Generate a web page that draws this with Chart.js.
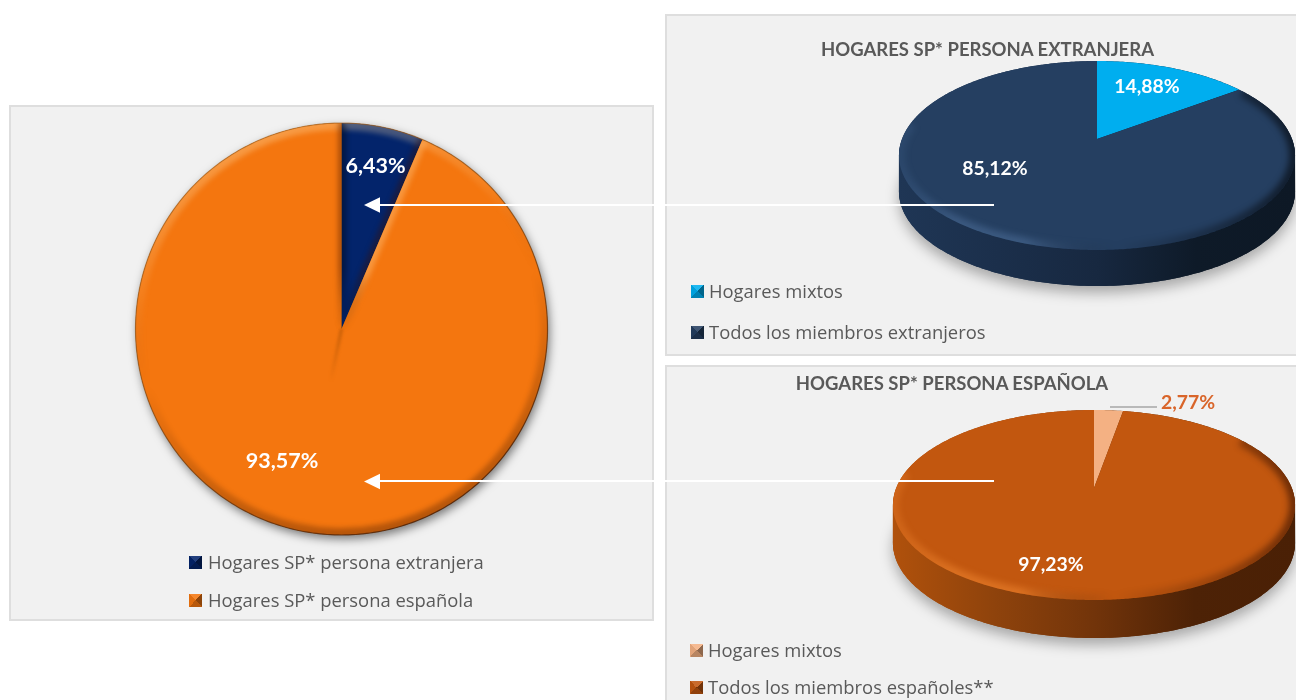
<!DOCTYPE html>
<html lang="es">
<head>
<meta charset="utf-8">
<title>Hogares SP</title>
<script src="https://cdn.jsdelivr.net/npm/chart.js@4"></script>
<style>
html,body{margin:0;padding:0;background:#fff;width:1296px;height:700px;overflow:hidden}
.panel{position:absolute;box-sizing:border-box;background:#f1f1f1;border:2px solid #dedede}
canvas{position:absolute;left:-2px;top:-2px}
.txt{position:absolute;white-space:nowrap;color:#595959;font-family:"Open Sans",sans-serif;font-size:18.4px;line-height:24px;height:24px}
.ttl{position:absolute;white-space:nowrap;color:#595959;font-family:Lato,sans-serif;font-weight:700;font-size:18.5px;line-height:24px;transform:translateX(-50%)}
.sw{position:absolute;width:13px;height:13px}
svg{position:absolute;left:0;top:0;pointer-events:none}
</style>
</head>
<body>
<div class="panel" id="pMain" style="left:9px;top:105px;width:645px;height:516px"><canvas id="cMain" width="645" height="516"></canvas></div>
<div class="panel" id="pTop" style="left:665px;top:14px;width:633px;height:342px"><canvas id="cTop" width="633" height="342"></canvas></div>
<div class="panel" id="pBot" style="left:665px;top:365px;width:633px;height:340px"><canvas id="cBot" width="633" height="340"></canvas></div>
<div id="texts"></div>
<svg width="1296" height="700">
<line x1="994" y1="205" x2="378" y2="205" stroke="#fff" stroke-width="2"/><polygon points="364,205 380,197.3 380,212.7" fill="#fff"/>
<line x1="994" y1="481" x2="378" y2="481" stroke="#fff" stroke-width="2"/><polygon points="364,481.5 380,473.8 380,489.2" fill="#fff"/>
</svg>
<script>
// ---- data ----
const mainCategories = ["Hogares SP* persona extranjera", "Hogares SP* persona española"];
const mainValues = [6.43, 93.57];
const foreignTitle = "HOGARES SP* PERSONA EXTRANJERA";
const foreignCategories = ["Hogares mixtos", "Todos los miembros extranjeros"];
const foreignValues = [14.88, 85.12];
const spanishTitle = "HOGARES SP* PERSONA ESPAÑOLA";
const spanishCategories = ["Hogares mixtos", "Todos los miembros españoles**"];
const spanishValues = [2.77, 97.23];
const mainColors = ["#03246b", "#f4760f"];
const foreignColors = ["#00aeef", "#253f61"];
const spanishColors = ["#f4b183", "#c2570f"];

const fmt = v => v.toFixed(2).replace(".", ",") + "%";

function projector(el, o) {
  const k = o.k, A = el.outerRadius * o.a, B = el.outerRadius * o.b, X = el.x, Y = el.y;
  return a => {
    const u = Math.cos(a), v = Math.sin(a), w = 1 - k * v;
    return [X + A * u / w, Y + B * v / w];
  };
}
function tracePoly(ctx, pts, open) {
  ctx.beginPath();
  pts.forEach((p, i) => i ? ctx.lineTo(p[0], p[1]) : ctx.moveTo(p[0], p[1]));
  if (!open) ctx.closePath();
}
function ring(P) {
  const pts = [];
  for (let i = 0; i < 360; i++) pts.push(P(i * Math.PI / 180));
  return pts;
}

const piePainter = {
  id: "piePainter",
  beforeDatasetDraw(chart, args, o) {
    const ctx = chart.ctx, els = chart.getDatasetMeta(0).data;
    const P = projector(els[0], o), rim = ring(P);
    const xs = rim.map(p => p[0]), ys = rim.map(p => p[1]);
    const x0 = Math.min(...xs), x1 = Math.max(...xs);
    ctx.save();
    if (o.depth) {
      const wall = ctx.createLinearGradient(x0, 0, x1, 0);
      o.wall.forEach((c, i) => wall.addColorStop(i / (o.wall.length - 1), c));
      ctx.save();
      ctx.shadowColor = "rgba(0,0,0,.3)"; ctx.shadowBlur = 13; ctx.shadowOffsetY = 7;
      tracePoly(ctx, rim.map(p => [p[0], p[1] + o.depth]));
      ctx.fillStyle = wall; ctx.fill();
      ctx.restore();
      ctx.fillStyle = wall;
      for (let d = 0; d <= o.depth; d += 1) { tracePoly(ctx, rim.map(p => [p[0], p[1] + d])); ctx.fill(); }
    } else {
      ctx.save();
      ctx.shadowColor = "rgba(0,0,0,.5)"; ctx.shadowBlur = 10; ctx.shadowOffsetX = 2; ctx.shadowOffsetY = 4;
      tracePoly(ctx, rim); ctx.fillStyle = "#7a4a12"; ctx.fill();
      ctx.restore();
    }
    els.forEach((el, i) => {
      const pts = [[el.x, el.y]];
      for (let a = el.startAngle; a < el.endAngle; a += Math.PI / 360) pts.push(P(a));
      pts.push(P(el.endAngle));
      tracePoly(ctx, pts);
      ctx.fillStyle = chart.data.datasets[0].backgroundColor[i];
      ctx.fill();
      if (!o.depth) {
        ctx.save();
        tracePoly(ctx, pts); ctx.clip();
        ctx.filter = "blur(2.5px)";
        const cy0 = el.y - el.outerRadius, cy1 = el.y + el.outerRadius;
        const g = ctx.createLinearGradient(el.x - el.outerRadius * .3, cy0, el.x + el.outerRadius * .3, cy1);
        g.addColorStop(0, "rgba(255,225,170,.36)"); g.addColorStop(.3, "rgba(255,225,170,.08)");
        g.addColorStop(.5, "rgba(0,0,0,.0)"); g.addColorStop(1, "rgba(60,20,0,.35)");
        ctx.beginPath(); ctx.arc(el.x, el.y, el.outerRadius, el.startAngle, el.endAngle);
        ctx.strokeStyle = g; ctx.lineWidth = 14; ctx.stroke();
        const edge = (ang, col, w) => {
          const p = P(ang);
          const c = ctx.createLinearGradient(el.x, el.y, p[0], p[1]);
          c.addColorStop(0, "rgba(0,0,0,0)"); c.addColorStop(.3, col); c.addColorStop(1, col);
          ctx.beginPath(); ctx.moveTo(el.x, el.y); ctx.lineTo(p[0], p[1]);
          ctx.strokeStyle = c; ctx.lineWidth = w; ctx.stroke();
        };
        edge(el.startAngle, i === 0 ? "rgba(0,0,0,.35)" : "rgba(255,200,130,.4)", 10);
        edge(el.endAngle, "rgba(60,15,0,.38)", i === 0 ? 10 : 7);
        ctx.restore();
      }
    });
    if (!o.depth) {
      // seam that runs on past the centre, opposite the small slice
      const el = els[0], mid = (el.startAngle + el.endAngle) / 2 + Math.PI;
      const q = [el.x + Math.cos(mid) * el.outerRadius * .26, el.y + Math.sin(mid) * el.outerRadius * .26];
      ctx.save();
      ctx.filter = "blur(1.5px)";
      const s = ctx.createLinearGradient(el.x, el.y, q[0], q[1]);
      s.addColorStop(0, "rgba(150,70,0,.5)"); s.addColorStop(1, "rgba(150,70,0,0)");
      ctx.beginPath(); ctx.moveTo(el.x, el.y); ctx.lineTo(q[0], q[1]);
      ctx.strokeStyle = s; ctx.lineWidth = 3; ctx.stroke();
      ctx.restore();
      const rg = ctx.createLinearGradient(el.x - el.outerRadius * .6, el.y - el.outerRadius, el.x + el.outerRadius * .6, el.y + el.outerRadius);
      rg.addColorStop(0, "rgba(170,95,20,.55)"); rg.addColorStop(.45, "rgba(130,70,15,.65)"); rg.addColorStop(1, "rgba(75,30,5,.9)");
      tracePoly(ctx, rim);
      ctx.strokeStyle = rg; ctx.lineWidth = 1.2; ctx.stroke();
    } else {
      // rounded near edge of the top face only, the far side stays flat
      ctx.save();
      tracePoly(ctx, rim); ctx.clip();
      ctx.filter = "blur(3px)";
      const g = ctx.createLinearGradient(x0, 0, x1, 0);
      o.bevel.forEach(s => g.addColorStop(s[0], s[1]));
      const near = [];
      for (let d = -35; d <= 190; d++) near.push(P(d * Math.PI / 180));
      tracePoly(ctx, near, true); ctx.strokeStyle = g; ctx.lineWidth = 12; ctx.stroke();
      ctx.restore();
    }
    ctx.restore();
    return false;
  },
  afterDraw(chart, args, o) {
    const ctx = chart.ctx, data = chart.data.datasets[0].data;
    ctx.save();
    if (o.leader) {
      ctx.beginPath(); ctx.moveTo(o.leader[0], o.leader[1]); ctx.lineTo(o.leader[2], o.leader[1]);
      ctx.strokeStyle = "#a6a6a6"; ctx.lineWidth = 1.5; ctx.stroke();
    }
    ctx.textAlign = "center"; ctx.textBaseline = "middle";
    o.labels.forEach((l, i) => {
      ctx.font = "700 " + o.font + "px Lato, sans-serif";
      ctx.fillStyle = l[2];
      ctx.fillText(fmt(data[i]), l[0], l[1]);
    });
    ctx.restore();
  }
};

function makePie(id, cats, vals, cols, pad, opts) {
  return new Chart(document.getElementById(id), {
    type: "pie",
    data: { labels: cats, datasets: [{ data: vals, backgroundColor: cols, borderWidth: 0 }] },
    options: {
      responsive: false, animation: false, layout: { padding: pad },
      plugins: { legend: { display: false }, tooltip: { enabled: false }, piePainter: opts }
    },
    plugins: [piePainter]
  });
}

makePie("cMain", mainCategories, mainValues, mainColors,
  { left: 126.5, right: 106.5, top: 18, bottom: 86 },
  { k: 0, a: 1, b: 1, depth: 0, font: 21.5,
    labels: [[366.5, 61, "#fff"], [273, 356.5, "#fff"]] });

makePie("cTop", foreignCategories, foreignValues, foreignColors,
  { left: 332, right: 101, top: 25, bottom: 117 },
  { k: 0.1746, a: 1.95, b: 0.916, depth: 36, font: 19.4,
    wall: ["#1f3655", "#1b2f4b", "#172840", "#0e1a28", "#0d1825"],
    bevel: [[0, "rgba(90,130,180,.12)"], [.15, "rgba(110,150,200,.3)"], [.32, "rgba(110,150,200,.3)"], [.55, "rgba(0,0,0,0)"], [.8, "rgba(0,0,0,.3)"], [1, "rgba(0,0,0,.55)"]],
    labels: [[482, 72.5, "#fff"], [330, 154.5, "#fff"]] });

makePie("cBot", spanishCategories, spanishValues, spanishColors,
  { left: 329, right: 104, top: 23, bottom: 117 },
  { k: 0.1789, a: 1.978, b: 0.9196, depth: 38, font: 19.4,
    wall: ["#b0510c", "#8f430c", "#72340a", "#4d2206", "#4a2005"],
    bevel: [[0, "rgba(255,150,60,.2)"], [.15, "rgba(255,150,60,.4)"], [.32, "rgba(255,150,60,.4)"], [.55, "rgba(0,0,0,0)"], [.8, "rgba(40,10,0,.25)"], [1, "rgba(40,10,0,.55)"]],
    leader: [445, 42, 492],
    labels: [[523, 37.5, "#d9652a"], [386, 199.5, "#fff"]] });

const host = document.getElementById("texts");
function addTitle(t, cx, cy) {
  const d = document.createElement("div"); d.className = "ttl"; d.textContent = t;
  d.style.left = cx + "px"; d.style.top = (cy - 12) + "px"; host.appendChild(d);
}
function addLegend(t, col, sx, tx, cy) {
  const s = document.createElement("div"); s.className = "sw";
  s.style.left = sx + "px"; s.style.top = (cy - 6.5) + "px";
  s.style.background = "conic-gradient(from -45deg, rgba(255,255,255,.12) 0 90deg, rgba(0,0,0,.42) 90deg 180deg, rgba(0,0,0,.25) 180deg 270deg, rgba(0,0,0,.08) 270deg 360deg)," + col;
  const d = document.createElement("div"); d.className = "txt"; d.textContent = t;
  d.style.left = tx + "px"; d.style.top = (cy - 12) + "px";
  host.appendChild(s); host.appendChild(d);
}
addTitle(foreignTitle, 987.5, 49);
addTitle(spanishTitle, 952, 383);
[562, 600].forEach((y, i) => addLegend(mainCategories[i], mainColors[i], 189, 208, y));
[291, 332].forEach((y, i) => addLegend(foreignCategories[i], foreignColors[i], 691, 709, y));
[650, 687].forEach((y, i) => addLegend(spanishCategories[i], spanishColors[i], 690, 708, y));
</script>
</body>
</html>
